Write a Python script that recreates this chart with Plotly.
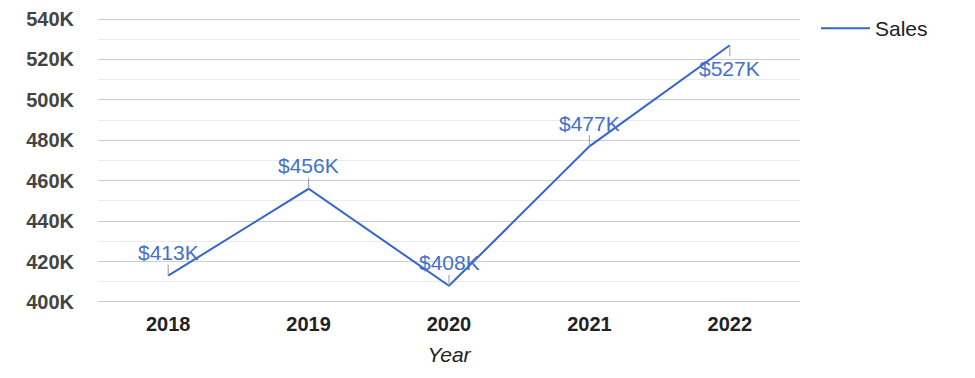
import plotly.graph_objects as go

years = ["2018", "2019", "2020", "2021", "2022"]
sales = [413000, 456000, 408000, 477000, 527000]
labels = ["$413K", "$456K", "$408K", "$477K", "$527K"]
label_above = [True, True, True, True, False]
ytick_vals = [400000, 420000, 440000, 460000, 480000, 500000, 520000, 540000]
ytick_text = ["400K", "420K", "440K", "460K", "480K", "500K", "520K", "540K"]

LINE = "#3366CC"
TXT = "#4470CC"
FONT = "Liberation Sans, Arial, sans-serif"

fig = go.Figure()
fig.add_trace(go.Scatter(
    x=years, y=sales, mode="lines", name="Sales",
    line=dict(color=LINE, width=2), hoverinfo="skip",
))

for i, (y, t, up) in enumerate(zip(sales, labels, label_above)):
    fig.add_annotation(
        x=i, y=y, xref="x", yref="y", text=t, showarrow=True, arrowhead=0,
        arrowwidth=1, arrowcolor="#999999", ax=0, ay=-23 if up else 23,
        font=dict(family=FONT, size=21, color=TXT), borderpad=0,
    )

# the page has an 8px body margin, so the figure is slightly smaller
W, H = 967, 370
fig.update_layout(
    width=W, height=H,
    margin=dict(l=90, r=W - 792, t=9, b=H - 296),
    paper_bgcolor="white", plot_bgcolor="white",
    font=dict(family=FONT, color="#222222"),
    showlegend=True,
    legend=dict(xref="container", yref="container",
                x=(816 - 8) / W, y=1.0, xanchor="left", yanchor="top",
                itemwidth=49,
                font=dict(size=21, color="#222222", family=FONT),
                bgcolor="rgba(0,0,0,0)"),
    xaxis=dict(
        type="category", range=[-0.5, 4.5], showgrid=False, zeroline=False,
        showline=False, ticks="outside", ticklen=2, tickcolor="rgba(0,0,0,0)",
        automargin=False,
        tickfont=dict(size=20, color="#222222", family=FONT, weight="bold"),
        title=dict(text="<i>Year</i>", font=dict(size=21, color="#222222", family=FONT), standoff=13),
    ),
    yaxis=dict(
        range=[399000, 541000], tickvals=ytick_vals, ticktext=ytick_text,
        showgrid=True, gridcolor="#cccccc", gridwidth=1, zeroline=False,
        showline=False, ticks="outside", ticklen=19, tickcolor="rgba(0,0,0,0)",
        automargin=False,
        tickfont=dict(size=20, color="#444444", family=FONT, weight="bold"),
        minor=dict(dtick=10000, tick0=400000, showgrid=True, gridcolor="#ebebeb", gridwidth=1),
    ),
)

fig.write_html("out.html")
